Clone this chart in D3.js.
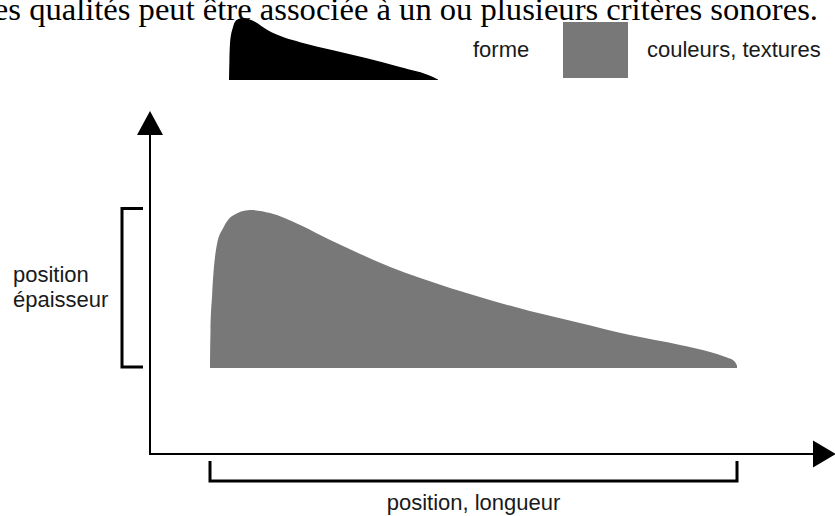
<!DOCTYPE html>
<html>
<head>
<meta charset="utf-8">
<script src="https://cdn.jsdelivr.net/npm/d3@7"></script>
<style>
  html, body { margin: 0; padding: 0; background: #ffffff; overflow: hidden; }
  svg { display: block; }
</style>
</head>
<body>
<svg id="chart" width="835" height="516"></svg>
<script>
// ---- data ----
const titleText = "Chacune de ces qualités peut être associée à un ou plusieurs critères sonores.";
const legendLabels = ["forme", "couleurs, textures"];
const axisLabelY = ["position", "épaisseur"];
const axisLabelX = "position, longueur";

// gray sound shape: position along time (0-100) and thickness (0-100)
const sonX = [0, 0.1, 0.4, 1.3, 2.5, 4.2, 7.6, 11.4, 17.1, 22.8, 28.5, 34.2, 39.9, 51.2, 60.7, 70.2, 79.7, 89.2, 94.9, 98.1, 99.5, 100];
const sonY = [0, 24, 46, 78, 88.6, 96.2, 100, 98.1, 90.5, 81, 72.2, 63.9, 57, 44.9, 36.1, 28.5, 20.9, 14.6, 10.2, 6.6, 4.2, 1.5];

// black "forme" legend shape
const formeX = [0, 0.2, 0.5, 1.9, 3.8, 6.7, 12.4, 18.2, 26.8, 34, 49.8, 66, 81.8, 97.6, 100];
const formeY = [0, 32, 60, 85, 97, 100, 94, 81, 68, 61, 48, 35, 21, 5, 1];

// ---- drawing ----
const svg = d3.select("#chart");
const sansFont = "'Liberation Sans', Arial, Helvetica, sans-serif";
const textColor = "#1a1a1a";
const grayFill = "#787878";

// title (cut at the top, as in the source page)
svg.append("text")
  .attr("x", 818).attr("y", 19.5)
  .attr("text-anchor", "end")
  .attr("font-family", "'Liberation Serif', 'Times New Roman', serif")
  .attr("font-size", 32.6)
  .attr("fill", "#000")
  .text(titleText);

// legend black shape
const fx = d3.scaleLinear().domain([0, 100]).range([229, 438]);
const fy = d3.scaleLinear().domain([0, 100]).range([80, 18]);
const formeData = formeX.map((x, i) => ({x, y: formeY[i]}));
svg.append("path")
  .datum(formeData)
  .attr("fill", "#000")
  .attr("d", d3.area().curve(d3.curveMonotoneX)
    .x(d => fx(d.x)).y0(fy(0)).y1(d => fy(d.y)));

svg.append("text")
  .attr("x", 473).attr("y", 57)
  .attr("font-family", sansFont).attr("font-size", 22)
  .attr("fill", textColor)
  .text(legendLabels[0]);

// legend gray square
svg.append("rect")
  .attr("x", 563).attr("y", 22).attr("width", 65).attr("height", 56)
  .attr("fill", grayFill);

svg.append("text")
  .attr("x", 647).attr("y", 57)
  .attr("font-family", sansFont).attr("font-size", 22)
  .attr("fill", textColor)
  .text(legendLabels[1]);

// main gray shape
const x = d3.scaleLinear().domain([0, 100]).range([210, 737]);
const y = d3.scaleLinear().domain([0, 100]).range([368, 210]);
const sonData = sonX.map((v, i) => ({x: v, y: sonY[i]}));
svg.append("path")
  .datum(sonData)
  .attr("fill", grayFill)
  .attr("d", d3.area().curve(d3.curveMonotoneX)
    .x(d => x(d.x)).y0(y(0)).y1(d => y(d.y)));

// axes
const originX = 150, originY = 454;
svg.append("line")
  .attr("x1", originX).attr("y1", originY + 1)
  .attr("x2", originX).attr("y2", 132)
  .attr("stroke", "#000").attr("stroke-width", 2);
svg.append("path")
  .attr("d", `M${originX},111 L${originX - 13},135 L${originX + 13},135 Z`)
  .attr("fill", "#000");

svg.append("line")
  .attr("x1", originX - 1).attr("y1", originY)
  .attr("x2", 815).attr("y2", originY)
  .attr("stroke", "#000").attr("stroke-width", 2);
svg.append("path")
  .attr("d", `M836,${originY} L813,${originY - 13.5} L813,${originY + 13.5} Z`)
  .attr("fill", "#000");

// left bracket
svg.append("path")
  .attr("d", "M143,208.5 L122,208.5 L122,367 L143,367")
  .attr("fill", "none").attr("stroke", "#000").attr("stroke-width", 3);

svg.append("text")
  .attr("font-family", sansFont).attr("font-size", 22)
  .attr("fill", textColor)
  .selectAll("tspan").data(axisLabelY).join("tspan")
  .attr("x", 13).attr("y", (d, i) => 282 + i * 25)
  .text(d => d);

// bottom bracket
svg.append("path")
  .attr("d", `M${x(0)},461 L${x(0)},481 L${x(100)},481 L${x(100)},461`)
  .attr("fill", "none").attr("stroke", "#000").attr("stroke-width", 3);

svg.append("text")
  .attr("x", (x(0) + x(100)) / 2).attr("y", 510)
  .attr("text-anchor", "middle")
  .attr("font-family", sansFont).attr("font-size", 22)
  .attr("fill", textColor)
  .text(axisLabelX);
</script>
</body>
</html>
